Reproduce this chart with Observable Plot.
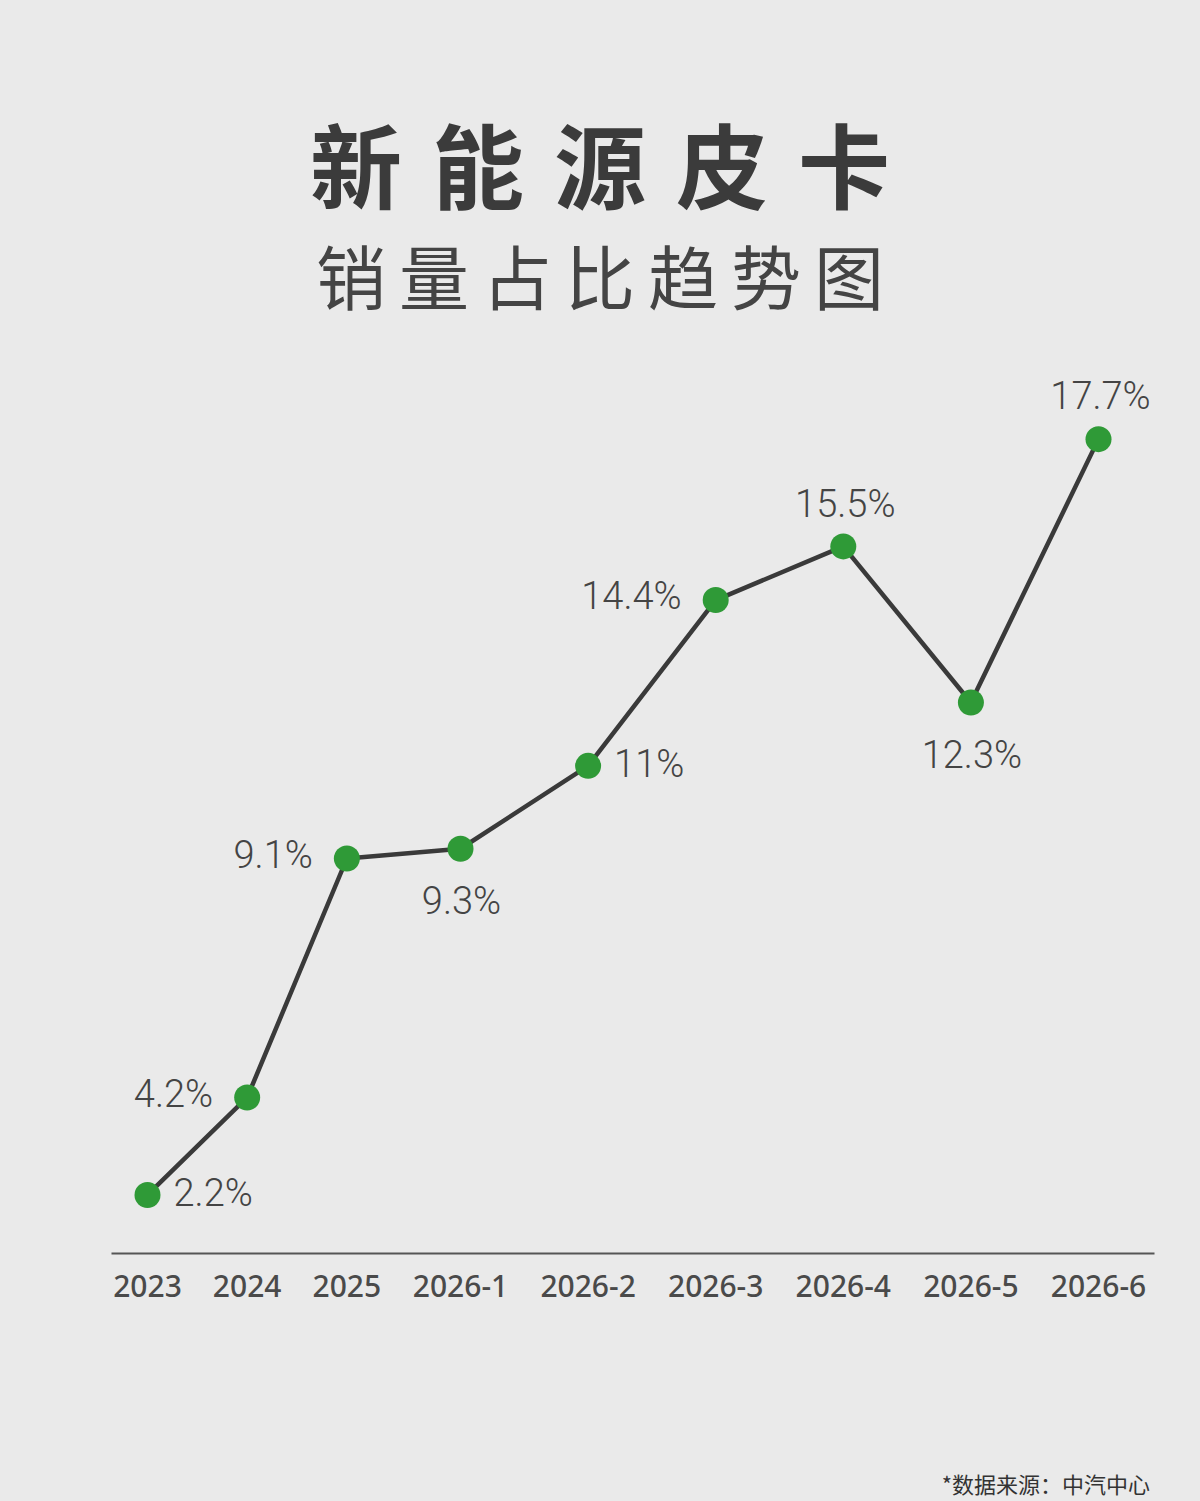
<!DOCTYPE html>
<html>
<head>
<meta charset="utf-8">
<script src="https://cdn.jsdelivr.net/npm/d3@7"></script>
<script src="https://cdn.jsdelivr.net/npm/@observablehq/plot@0.6"></script>
<style>
  html, body { margin: 0; padding: 0; background: #eaeaea; }
  #page { position: relative; width: 1200px; height: 1501px; overflow: hidden; background: #eaeaea; }
  #head { position: relative; height: 340px; }
  .t1 { position: absolute; left: 0; width: 1200px; top: 116px; text-align: center;
        font-family: "Noto Sans CJK SC", sans-serif; font-weight: 700; font-size: 92px; line-height: 1;
        letter-spacing: 30px; padding-left: 30px; box-sizing: border-box; color: #3b3b3b; }
  .t2 { position: absolute; left: 0; width: 1200px; top: 240px; text-align: center;
        font-family: "Noto Sans CJK SC", sans-serif; font-weight: 400; font-size: 70px; line-height: 1;
        letter-spacing: 13px; padding-left: 13px; box-sizing: border-box; color: #444; }
  #chart svg { display: block; }
  #note { position: absolute; right: 50px; top: 1472px; font-family: "Noto Sans CJK SC", sans-serif;
          font-size: 22px; line-height: 1; color: #333; }
</style>
</head>
<body>
<div id="page">
  <div id="head">
    <div class="t1">新能源皮卡</div>
    <div class="t2">销量占比趋势图</div>
  </div>
  <div id="chart"></div>
  <div id="note">*数据来源：中汽中心</div>
</div>
<script>
const periods = ["2023", "2024", "2025", "2026-1", "2026-2", "2026-3", "2026-4", "2026-5", "2026-6"];
const shares = [2.2, 4.2, 9.1, 9.3, 11, 14.4, 15.5, 12.3, 17.7];
const valueLabels = ["2.2%", "4.2%", "9.1%", "9.3%", "11%", "14.4%", "15.5%", "12.3%", "17.7%"];
const labelSides = ["right", "left", "left", "below", "right", "left", "above", "below", "above"];

// category slots spaced by label widths (labels laid out side by side)
const gap = 3.14;
const slots = [];
periods.forEach((p, i) => {
  slots.push(i === 0 ? 0 : slots[i - 1] + (periods[i - 1].length + p.length) / 2 + gap);
});

const data = periods.map((p, i) => ({
  period: p, slot: slots[i], share: shares[i], label: valueLabels[i], side: labelSides[i]
}));

const labelFont = {fontFamily: "Roboto, sans-serif", fontWeight: 300, fontSize: 38, fill: "#444"};
const side = s => data.filter(d => d.side === s);

const chart = Plot.plot({
  width: 1200,
  height: 1020,
  marginLeft: 112,
  marginRight: 47,
  marginTop: 84,
  marginBottom: 107,
  style: {background: "transparent", overflow: "visible"},
  x: {type: "linear", domain: d3.extent(slots), insetLeft: 35, insetRight: 55, axis: null, label: null},
  y: {domain: [1, 18], axis: null, label: null},
  marks: [
    Plot.frame({anchor: "bottom", stroke: "#555", strokeWidth: 2}),
    Plot.axisX({
      ticks: slots,
      tickFormat: d => periods[slots.indexOf(d)],
      tickSize: 0,
      tickPadding: 22,
      label: null,
      fontSize: 30,
      fontWeight: 500,
      fontFamily: "'Noto Sans', sans-serif",
      fill: "#4a4a4a"
    }),
    Plot.line(data, {x: "slot", y: "share", stroke: "#3a3a3a", strokeWidth: 4.5}),
    Plot.dot(data, {x: "slot", y: "share", r: 13, fill: "#2f9a37", stroke: "none"}),
    Plot.text(side("right"), {x: "slot", y: "share", text: "label", textAnchor: "start", dx: 26, dy: -1, ...labelFont}),
    Plot.text(side("left"), {x: "slot", y: "share", text: "label", textAnchor: "end", dx: -34, dy: -3, ...labelFont}),
    Plot.text(side("above"), {x: "slot", y: "share", text: "label", textAnchor: "middle", dx: 2, dy: -42, ...labelFont}),
    Plot.text(side("below"), {x: "slot", y: "share", text: "label", textAnchor: "middle", dx: 1, dy: 53, ...labelFont})
  ]
});
document.getElementById("chart").appendChild(chart);
</script>
</body>
</html>
